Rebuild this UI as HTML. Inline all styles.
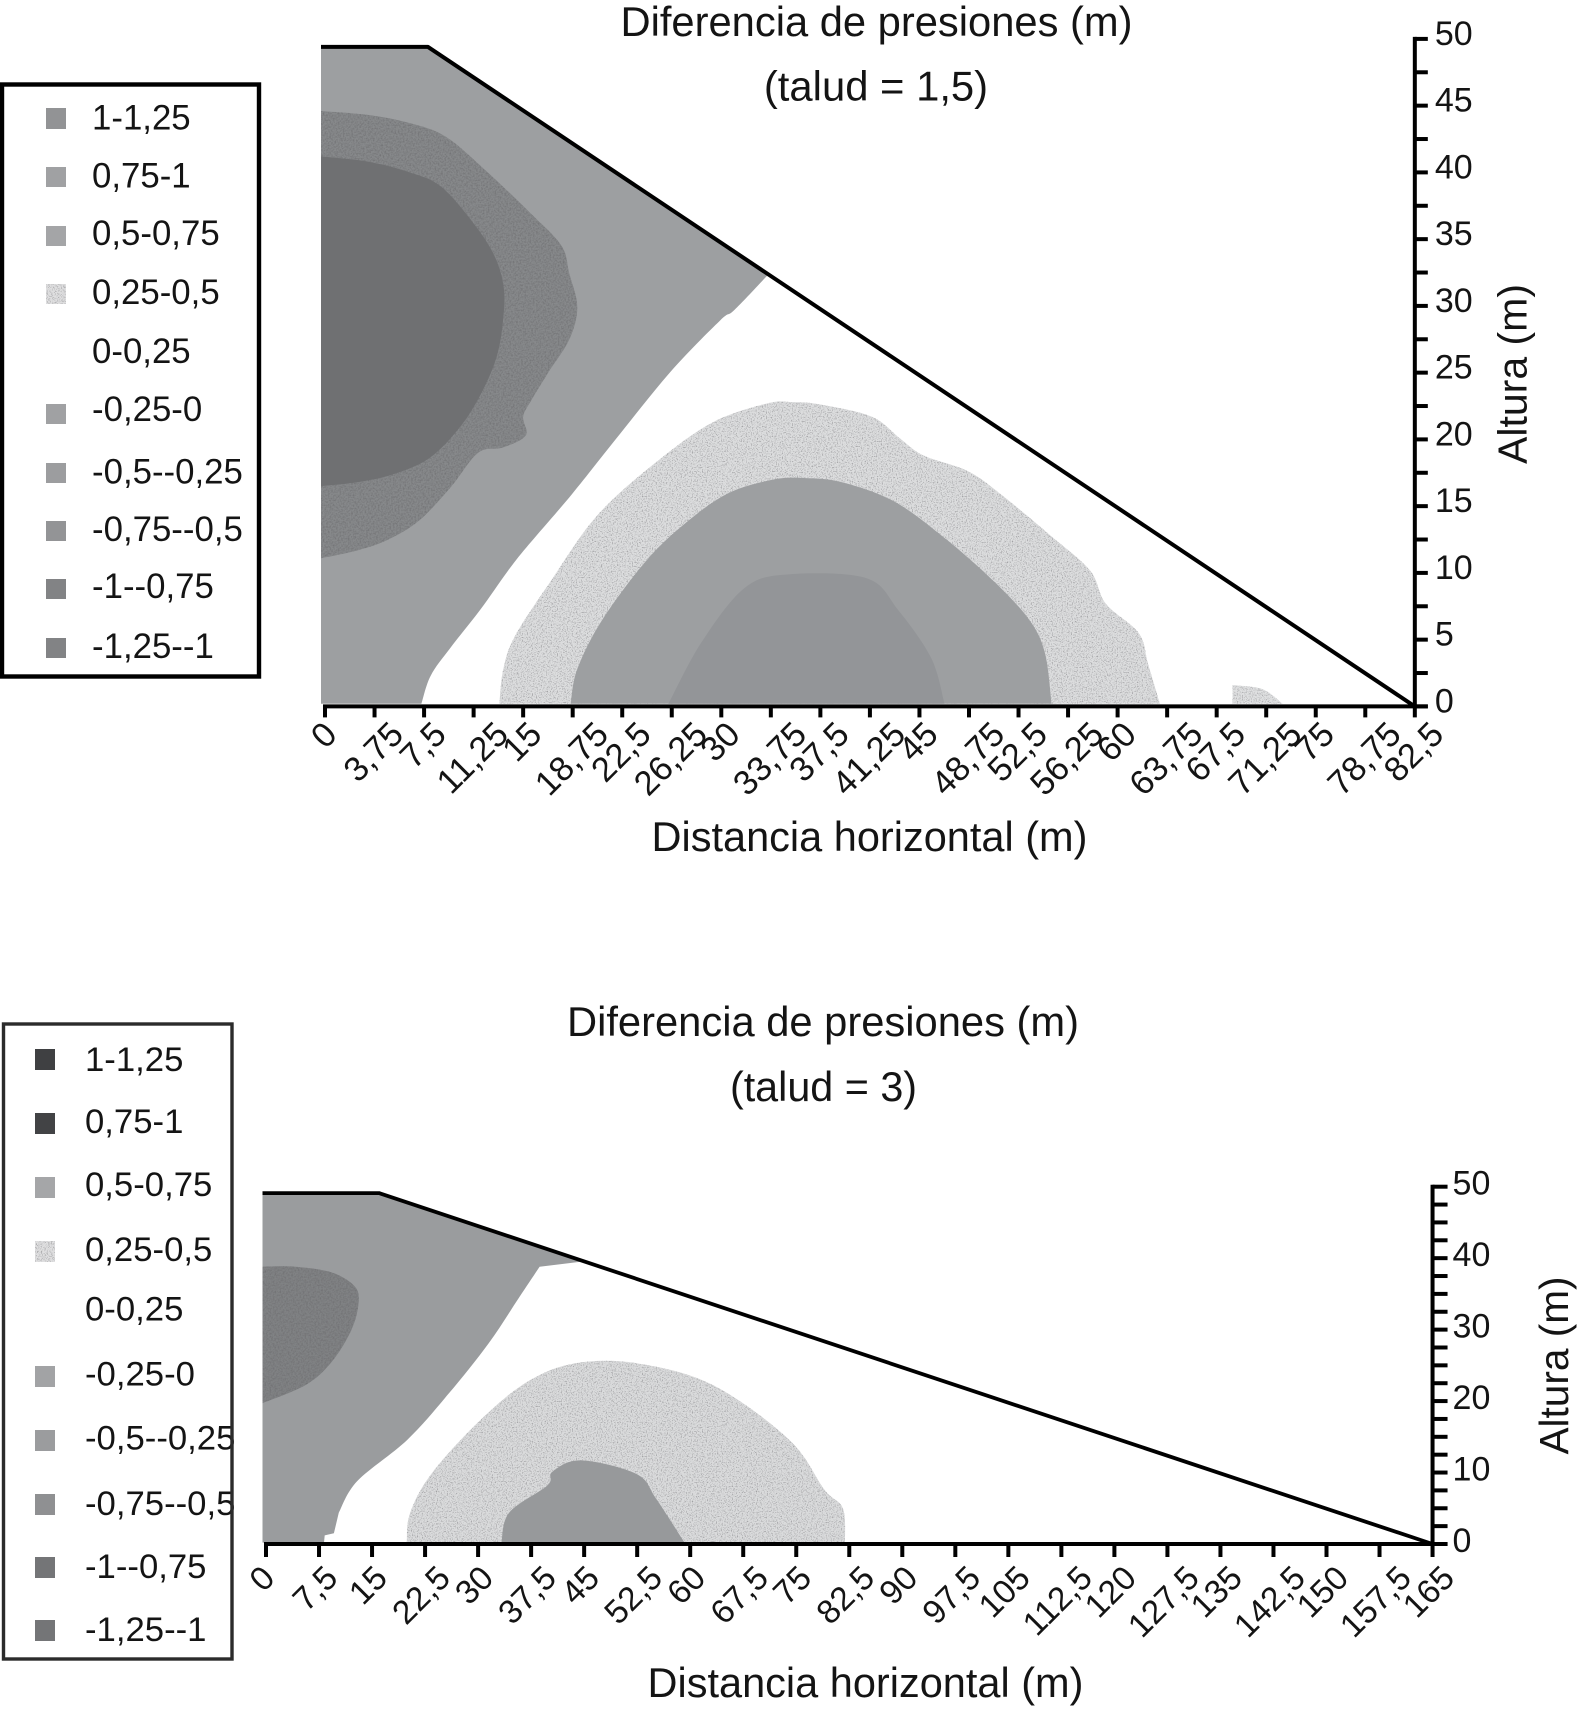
<!DOCTYPE html>
<html lang="es">
<head>
<meta charset="utf-8">
<title>Diferencia de presiones</title>
<style>
html,body{margin:0;padding:0;background:#fff;}
svg{display:block;}
text{font-family:"Liberation Sans",Arial,sans-serif;fill:#141414;}
</style>
</head>
<body>
<svg id="figure" xmlns="http://www.w3.org/2000/svg" width="1586" height="1717" viewBox="0 0 1586 1717">
  <defs>
    <filter id="stipple" x="0" y="0" width="100%" height="100%" color-interpolation-filters="sRGB">
      <feTurbulence type="fractalNoise" baseFrequency="0.8" numOctaves="2" seed="4" result="n"/>
      <feColorMatrix in="n" type="matrix" values="0 0 0 0 0.62  0 0 0 0 0.62  0 0 0 0 0.63  3.5 0 0 0 -1.75" result="a"/>
      <feComposite in="a" in2="SourceGraphic" operator="in" result="c"/>
      <feMerge><feMergeNode in="SourceGraphic"/><feMergeNode in="c"/></feMerge>
    </filter>
    <filter id="grain" x="0" y="0" width="100%" height="100%" color-interpolation-filters="sRGB">
      <feTurbulence type="fractalNoise" baseFrequency="0.6" numOctaves="2" seed="9" result="n"/>
      <feColorMatrix in="n" type="matrix" values="0 0 0 0 0.42  0 0 0 0 0.42  0 0 0 0 0.43  1.6 0 0 0 -0.62" result="a"/>
      <feComposite in="a" in2="SourceGraphic" operator="in" result="c"/>
      <feMerge><feMergeNode in="SourceGraphic"/><feMergeNode in="c"/></feMerge>
    </filter>
    <clipPath id="legend2-clip"><rect x="0" y="1020" width="236" height="645"/></clipPath>
  </defs>

  <rect x="0" y="0" width="1586" height="1717" fill="#fff"/>

  <g id="chart1"></g>
  <g id="chart2"></g>

  <!-- Chart 1 titles -->
  <text x="876.5" y="36" font-size="41.7" text-anchor="middle">Diferencia de presiones (m)</text>
  <text x="876" y="100.5" font-size="41.8" text-anchor="middle">(talud = 1,5)</text>
  <text x="869.5" y="851" font-size="41.5" text-anchor="middle">Distancia horizontal (m)</text>
  <text transform="translate(1526.5 374) rotate(-90)" font-size="41" text-anchor="middle">Altura (m)</text>

  <!-- Chart 2 titles -->
  <text x="823" y="1036" font-size="41.7" text-anchor="middle">Diferencia de presiones (m)</text>
  <text x="823.5" y="1101" font-size="41.3" text-anchor="middle">(talud = 3)</text>
  <text x="865.5" y="1697" font-size="41.5" text-anchor="middle">Distancia horizontal (m)</text>
  <text transform="translate(1568 1365.5) rotate(-90)" font-size="40.6" text-anchor="middle">Altura (m)</text>

  <!-- Legend 1 -->
  <g font-size="34.8">
    <rect x="2" y="84.5" width="257" height="592" fill="#fff" stroke="#000" stroke-width="4.4"/>
    <rect x="46" y="108" width="20" height="21" fill="#929395"/>
    <text x="92" y="129.5">1-1,25</text>
    <rect x="46" y="167" width="20" height="20" fill="#a0a1a3"/>
    <text x="92" y="187.5">0,75-1</text>
    <rect x="46" y="226" width="20" height="20" fill="#a4a5a7"/>
    <text x="92" y="245">0,5-0,75</text>
    <rect x="46" y="284" width="20" height="20" fill="#dfdfe0" filter="url(#stipple)"/>
    <text x="92" y="304">0,25-0,5</text>
    <text x="92" y="363">0-0,25</text>
    <rect x="46" y="404" width="20" height="20" fill="#a0a1a3"/>
    <text x="92" y="421">-0,25-0</text>
    <rect x="46" y="463" width="20" height="20" fill="#9c9d9f"/>
    <text x="92" y="483.5">-0,5--0,25</text>
    <rect x="46" y="521" width="20" height="20" fill="#939496"/>
    <text x="92" y="541">-0,75--0,5</text>
    <rect x="46" y="579" width="20" height="20" fill="#828385"/>
    <text x="92" y="598">-1--0,75</text>
    <rect x="46" y="638" width="20" height="20" fill="#828385"/>
    <text x="92" y="658">-1,25--1</text>
  </g>

  <!-- Legend 2 -->
  <g font-size="34.7">
    <g clip-path="url(#legend2-clip)">
      <text x="85" y="1071">1-1,25</text>
      <text x="85" y="1133">0,75-1</text>
      <text x="85" y="1196">0,5-0,75</text>
      <text x="85" y="1261">0,25-0,5</text>
      <text x="85" y="1320.5">0-0,25</text>
      <text x="85" y="1385.5">-0,25-0</text>
      <text x="85" y="1449.5">-0,5--0,25</text>
      <text x="85" y="1515">-0,75--0,5</text>
      <text x="85" y="1578">-1--0,75</text>
      <text x="85" y="1641">-1,25--1</text>
    </g>
    <rect x="3.5" y="1024" width="228.5" height="635" fill="none" stroke="#2b2b2b" stroke-width="3.4"/>
    <rect x="35" y="1049" width="20" height="21" fill="#3f4042"/>
    <rect x="35" y="1113" width="20" height="21" fill="#424345"/>
    <rect x="35" y="1177" width="20" height="21" fill="#a5a6a8"/>
    <rect x="35" y="1241" width="20" height="21" fill="#dfdfe0" filter="url(#stipple)"/>
    <rect x="35" y="1366" width="20" height="21" fill="#a2a3a5"/>
    <rect x="35" y="1430" width="20" height="21" fill="#9b9c9e"/>
    <rect x="35" y="1494" width="20" height="21" fill="#8f9092"/>
    <rect x="35" y="1557" width="20" height="21" fill="#747577"/>
    <rect x="35" y="1620" width="20" height="21" fill="#747577"/>
  </g>
</svg>

<script>
// ---------- Chart 1 (talud = 1,5) data, in metres ----------
var xTickLabels1 = ["0","3,75","7,5","11,25","15","18,75","22,5","26,25","30","33,75","37,5","41,25","45","48,75","52,5","56,25","60","63,75","67,5","71,25","75","78,75","82,5"];
var yTickValues1 = [0,2.5,5,7.5,10,12.5,15,17.5,20,22.5,25,27.5,30,32.5,35,37.5,40,42.5,45,47.5,50];
var yTickLabels1 = ["0","5","10","15","20","25","30","35","40","45","50"];
var crest1 = [[-0.3,49.4],[7.8,49.4],[82.5,0]];
var outer1 = [[-0.3,49.4],[7.8,49.4],[33.6,32.4],[31,29.7],[29.9,28.9],[26.1,25],[22,20],[18.7,15.9],[14.5,11],[11.8,7.3],[9.5,4.4],[8,2.3],[7.3,0.2],[-0.3,0.2]];
var ring1 = [[-0.3,44.6],[3.3,44.3],[6.4,43.7],[9.1,42.7],[12.1,40.2],[15.6,36.9],[17.9,34.5],[18.5,32.4],[19.1,29.9],[18.5,27.5],[16.9,25],[15.6,22.9],[15,21.7],[15.2,20.3],[13.5,19.4],[11.6,19],[9.5,16.4],[7.1,13.9],[4.8,12.5],[2.5,11.7],[-0.3,11.1]];
var core1 = [[-0.3,41.2],[3.3,40.8],[6.4,40],[8.7,39],[11,36.5],[12.7,34],[13.5,31.6],[13.5,29.1],[13,26.2],[11.8,23.4],[10.2,20.9],[7.9,18.6],[5.2,17.4],[2.5,16.8],[-0.3,16.5]];
var light1 = [[13.2,0.2],[13.5,2.8],[14.4,5.3],[17.1,9.4],[20.6,14.3],[25.2,18.4],[29.4,21.3],[33.5,22.7],[35.3,22.8],[37.6,22.6],[41.4,21.7],[43.5,20.1],[45.3,18.8],[48.7,17.6],[51.4,15.7],[54.8,12.9],[57.9,10.2],[59.1,7.7],[61.6,5.5],[62.3,3.2],[63.2,0.2]];
var lobe1 = [[18.6,0.2],[19.1,2.8],[21,6.5],[24.4,11],[27.5,13.9],[30.6,16],[34,17],[36.4,17.1],[39.1,16.8],[43,15.4],[46.8,12.7],[50.6,9.4],[53.3,6.5],[54.5,4],[55,0.2]];
var lobeCore1 = [[26,0.2],[28.5,4.8],[31.8,8.9],[35.2,9.9],[41,9.6],[43.4,7.2],[45.9,3.6],[46.9,0.2]];
var patch1 = [[68.7,0.2],[68.7,1.6],[70.6,1.4],[71.5,1],[72.5,0.2]];

// ---------- Chart 2 (talud = 3) data, in metres ----------
var xTickLabels2 = ["0","7,5","15","22,5","30","37,5","45","52,5","60","67,5","75","82,5","90","97,5","105","112,5","120","127,5","135","142,5","150","157,5","165"];
var yTickValues2 = [0,2.5,5,7.5,10,12.5,15,17.5,20,22.5,25,27.5,30,32.5,35,37.5,40,42.5,45,47.5,50];
var yTickLabels2 = ["0","10","20","30","40","50"];
var crest2 = [[-0.5,49.1],[16,49.1],[165,0]];
var outer2 = [[-0.5,49.1],[16,49.1],[44.5,39.5],[38.7,38.8],[35.8,34.5],[31.5,28.1],[25.8,21],[20,14.6],[12.9,8.8],[10.3,4.4],[9.6,1.5],[8.3,1.2],[8.2,0.2],[-0.5,0.2]];
var core2 = [[-0.5,38.8],[4.2,38.8],[9.3,38],[12.5,36.1],[13.1,33.8],[12.1,30],[9.3,25.5],[5.7,22.3],[-0.5,19.7]];
var light2 = [[19.9,0.2],[20.4,4.4],[23.6,10.1],[30.8,17.8],[37.3,22.9],[43.8,25.3],[52.4,25.3],[63.1,22.3],[74,14.6],[79,7.6],[81.6,5],[81.9,0.2]];
var lobe2 = [[33.3,0.2],[34.4,4.4],[39.8,8.2],[40.5,10.1],[44.5,11.7],[52.4,9.8],[55.2,6.3],[59.2,0.2]];

var SVGNS = "http://www.w3.org/2000/svg";

function make(tag, parent, attrs) {
  var el = document.createElementNS(SVGNS, tag);
  for (var k in attrs) { el.setAttribute(k, attrs[k]); }
  parent.appendChild(el);
  return el;
}

function num(label) { return parseFloat(String(label).replace(",", ".")); }

// Closed outline: straight edges outside the [from, to] index range, a smooth
// Catmull-Rom curve through the contour points inside it.
function outlinePath(pts, sx, sy, from, to) {
  var P = pts.map(function (p) { return [sx(p[0]), sy(p[1])]; });
  var d = "M" + P[0][0].toFixed(1) + " " + P[0][1].toFixed(1);
  for (var i = 1; i < P.length; i++) {
    if (i > from && i <= to) {
      var p0 = P[Math.max(i - 2, from)], p1 = P[i - 1], p2 = P[i], p3 = P[Math.min(i + 1, to)];
      var c1x = p1[0] + (p2[0] - p0[0]) / 6, c1y = p1[1] + (p2[1] - p0[1]) / 6;
      var c2x = p2[0] - (p3[0] - p1[0]) / 6, c2y = p2[1] - (p3[1] - p1[1]) / 6;
      d += " C" + c1x.toFixed(1) + " " + c1y.toFixed(1) + " " + c2x.toFixed(1) + " " + c2y.toFixed(1) + " " + p2[0].toFixed(1) + " " + p2[1].toFixed(1);
    } else {
      d += " L" + P[i][0].toFixed(1) + " " + P[i][1].toFixed(1);
    }
  }
  return d + " Z";
}

function drawRegion(parent, name, pts, sx, sy, fill, filterId, from, to) {
  var attrs = { d: outlinePath(pts, sx, sy, from, to), fill: fill };
  if (filterId) { attrs.filter = "url(#" + filterId + ")"; }
  var el = make("path", parent, attrs);
  
  
}

function drawAxes(parent, prefix, sx, sy, xLabels, yValues, yLabels, crest, opt) {
  // crest / slope line
  var line = make("polyline", parent, {
    points: crest.map(function (p) { return sx(p[0]).toFixed(1) + "," + sy(p[1]).toFixed(1); }).join(" "),
    fill: "none", stroke: "#000", "stroke-width": opt.crestWidth, "stroke-linejoin": "round"
  });
  
  

  var xMin = num(xLabels[0]), xMax = num(xLabels[xLabels.length - 1]);
  var xAxis = make("line", parent, { x1: sx(xMin) - 2, x2: sx(xMax) + opt.yTickLen, y1: sy(0), y2: sy(0), stroke: "#000", "stroke-width": 4 });
  
  

  var yAxis = make("line", parent, { x1: sx(xMax), x2: sx(xMax), y1: sy(50) - 2, y2: sy(0) + 2, stroke: "#000", "stroke-width": 4 });
  
  

  xLabels.forEach(function (lab) {
    var v = num(lab);
    var tick = make("line", parent, { x1: sx(v), x2: sx(v), y1: sy(0), y2: sy(0) + opt.xTickLen, stroke: "#000", "stroke-width": 4 });
    
    

    var t = make("text", parent, { "font-size": opt.xLabelSize, "text-anchor": "end" });
    
    
    t.textContent = lab;
    var w = t.getComputedTextLength();
    var ax = sx(v) + 0.354 * w + opt.xLabelDx;
    var ay = sy(0) + opt.xLabelDy;
    t.setAttribute("transform", "translate(" + ax.toFixed(1) + " " + ay.toFixed(1) + ") rotate(-45)");
  });

  yValues.forEach(function (v) {
    var tick = make("line", parent, { x1: sx(xMax), x2: sx(xMax) + opt.yTickLen, y1: sy(v), y2: sy(v), stroke: "#000", "stroke-width": 4 });
    
    
  });

  yLabels.forEach(function (lab) {
    var t = make("text", parent, { x: sx(xMax) + 20, y: sy(num(lab)) + opt.yLabelDy, "font-size": 34 });
    
    
    t.textContent = lab;
  });
}

// ---------- Axis functions ----------
function sx1(v) { return 325 + v * 13.21; }
function sy1(v) { return 706.4 - v * 13.35; }
function sx2(v) { return 266 + v * 7.07; }
function sy2(v) { return 1544 - v * 7.146; }

// ---------- Chart 1 ----------
var g1 = document.getElementById("chart1");
drawRegion(g1, "chart1-region-outer", outer1, sx1, sy1, "#9d9fa1", null, 2, outer1.length - 2);
drawRegion(g1, "chart1-region-ring", ring1, sx1, sy1, "#87898b", "grain", 0, ring1.length - 1);
drawRegion(g1, "chart1-region-core", core1, sx1, sy1, "#6f7072", null, 0, core1.length - 1);
drawRegion(g1, "chart1-region-light", light1, sx1, sy1, "#dcddde", "stipple", 0, light1.length - 1);
drawRegion(g1, "chart1-region-lobe", lobe1, sx1, sy1, "#9d9fa1", null, 0, lobe1.length - 1);
drawRegion(g1, "chart1-region-lobe-core", lobeCore1, sx1, sy1, "#939598", null, 0, lobeCore1.length - 1);
drawRegion(g1, "chart1-region-patch", patch1, sx1, sy1, "#dfe0e1", "stipple", 1, patch1.length - 1);
drawAxes(g1, "chart1", sx1, sy1, xTickLabels1, yTickValues1, yTickLabels1, crest1,
  { crestWidth: 4, xTickLen: 11, yTickLen: 13, xLabelSize: 34.5, xLabelDx: 7, xLabelDy: 30, yLabelDy: 6 });

// ---------- Chart 2 ----------
var g2 = document.getElementById("chart2");
drawRegion(g2, "chart2-region-outer", outer2, sx2, sy2, "#9a9c9e", null, 3, outer2.length - 5);
drawRegion(g2, "chart2-region-core", core2, sx2, sy2, "#808284", "grain", 0, core2.length - 1);
drawRegion(g2, "chart2-region-light", light2, sx2, sy2, "#dadbdc", "stipple", 0, light2.length - 1);
drawRegion(g2, "chart2-region-lobe", lobe2, sx2, sy2, "#97999b", null, 0, lobe2.length - 1);
drawAxes(g2, "chart2", sx2, sy2, xTickLabels2, yTickValues2, yTickLabels2, crest2,
  { crestWidth: 3.8, xTickLen: 13, yTickLen: 15, xLabelSize: 33.5, xLabelDx: 4, xLabelDy: 36, yLabelDy: 8 });
</script>
</body>
</html>
